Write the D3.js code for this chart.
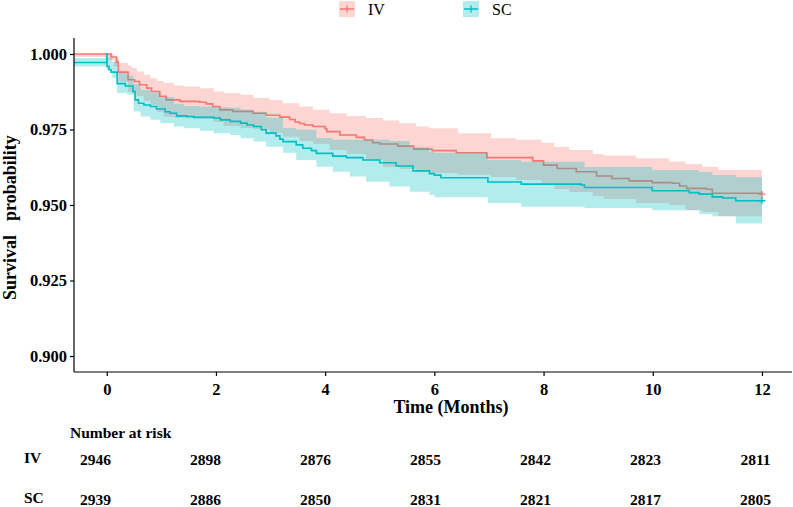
<!DOCTYPE html>
<html>
<head>
<meta charset="utf-8">
<script src="https://cdn.jsdelivr.net/npm/d3@7"></script>
<style>
  html, body { margin: 0; padding: 0; background: #fff; }
  svg { display: block; }
  text { font-family: "Liberation Serif", "Times New Roman", serif; }
</style>
</head>
<body>
<svg id="chart" width="793" height="507"></svg>
<script>
// ---------------- data ----------------
const groups = ["IV", "SC"];
const colors = ["#F8766D", "#00BFC4"];

const ivTime = [-0.6, 0.08, 0.18, 0.21, 0.39, 0.51, 0.60, 0.73, 0.82, 0.97, 1.09, 1.34, 1.70, 1.82, 1.94, 2.07, 2.31, 2.68, 2.92, 3.17, 3.35, 3.45, 3.53, 3.62, 3.78, 4.00, 4.03, 4.27, 4.57, 4.72, 4.87, 5.00, 5.33, 5.62, 5.96, 6.40, 6.96, 7.80, 8.00, 8.25, 8.60, 8.97, 9.25, 9.57, 9.99, 10.36, 10.49, 10.62, 10.98, 11.09, 12.0];
const ivSurv = [1.000, 0.9990, 0.9973, 0.9940, 0.9915, 0.9909, 0.9898, 0.9887, 0.9876, 0.9860, 0.9848, 0.9843, 0.9840, 0.9835, 0.9826, 0.9815, 0.9810, 0.9804, 0.9797, 0.9791, 0.9783, 0.9775, 0.9770, 0.9765, 0.9760, 0.9752, 0.9743, 0.9732, 0.9724, 0.9715, 0.9706, 0.9702, 0.9695, 0.9685, 0.9680, 0.9673, 0.9657, 0.9646, 0.9632, 0.9621, 0.9610, 0.9596, 0.9588, 0.9580, 0.9574, 0.9572, 0.9563, 0.9555, 0.9552, 0.9539, 0.9536];

const scTime = [-0.6, 0.0, 0.005, 0.04, 0.08, 0.19, 0.34, 0.48, 0.52, 0.58, 0.68, 0.80, 0.91, 1.07, 1.16, 1.28, 1.46, 1.59, 1.96, 2.08, 2.26, 2.45, 2.57, 2.69, 2.83, 2.92, 3.10, 3.17, 3.23, 3.47, 3.59, 3.75, 3.84, 4.14, 4.39, 4.69, 5.00, 5.30, 5.61, 5.91, 6.00, 6.12, 6.98, 7.59, 8.69, 8.75, 9.99, 10.67, 10.85, 11.09, 11.28, 11.52, 12.0];
const scSurv = [0.9972, 1.000, 0.9959, 0.9948, 0.9940, 0.9902, 0.9894, 0.9876, 0.9848, 0.9837, 0.9831, 0.9826, 0.9818, 0.9809, 0.9804, 0.9795, 0.9793, 0.9790, 0.9788, 0.9782, 0.9777, 0.9771, 0.9765, 0.9760, 0.9749, 0.9738, 0.9729, 0.9718, 0.9710, 0.9699, 0.9688, 0.9680, 0.9671, 0.9662, 0.9657, 0.9649, 0.9640, 0.9629, 0.9613, 0.9604, 0.9599, 0.9590, 0.9576, 0.9569, 0.9566, 0.9558, 0.9547, 0.9541, 0.9536, 0.9527, 0.9523, 0.9514, 0.9514];

const ivBandTime = [-0.6, 0.0, 0.13, 0.22, 0.39, 0.46, 0.55, 0.68, 0.80, 0.92, 1.04, 1.23, 1.41, 1.71, 1.96, 2.14, 2.45, 2.69, 2.98, 3.22, 3.53, 3.78, 4.08, 4.39, 4.75, 5.06, 5.36, 5.67, 5.91, 6.43, 7.04, 7.50, 7.96, 8.20, 8.47, 8.90, 9.10, 9.69, 10.30, 10.60, 10.91, 11.20, 12.0];
const ivUpper = [1.000, 1.000, 0.9987, 0.9970, 0.9962, 0.9954, 0.9942, 0.9931, 0.9920, 0.9911, 0.9904, 0.9896, 0.9892, 0.9887, 0.9876, 0.9871, 0.9865, 0.9854, 0.9848, 0.9837, 0.9826, 0.9815, 0.9804, 0.9795, 0.9788, 0.9780, 0.9771, 0.9760, 0.9754, 0.9738, 0.9721, 0.9716, 0.9706, 0.9692, 0.9682, 0.9669, 0.9664, 0.9655, 0.9644, 0.9636, 0.9627, 0.9616, 0.9614];
const ivLower = [0.9990, 0.9980, 0.9958, 0.9908, 0.9875, 0.9870, 0.9861, 0.9845, 0.9832, 0.9809, 0.9792, 0.9789, 0.9789, 0.9787, 0.9775, 0.9762, 0.9755, 0.9752, 0.9739, 0.9726, 0.9712, 0.9702, 0.9682, 0.9669, 0.9649, 0.9626, 0.9619, 0.9609, 0.9606, 0.9600, 0.9593, 0.9583, 0.9570, 0.9553, 0.9543, 0.9530, 0.9520, 0.9507, 0.9500, 0.9483, 0.9477, 0.9463, 0.9460];

const scBandTime = [-0.6, 0.0, 0.10, 0.19, 0.37, 0.49, 0.62, 0.80, 0.98, 1.23, 1.41, 1.71, 1.96, 2.26, 2.45, 2.69, 2.92, 3.23, 3.47, 3.84, 4.14, 4.45, 4.75, 5.18, 5.55, 5.91, 6.00, 6.98, 7.59, 8.75, 9.99, 10.85, 11.09, 11.52, 12.0];
const scUpper = [0.9987, 0.9988, 0.9974, 0.9938, 0.9928, 0.9901, 0.9882, 0.9872, 0.9858, 0.9835, 0.9828, 0.9826, 0.9824, 0.9822, 0.9815, 0.9809, 0.9789, 0.9755, 0.9749, 0.9722, 0.9716, 0.9716, 0.9716, 0.9712, 0.9692, 0.9676, 0.9673, 0.9649, 0.9643, 0.9626, 0.9616, 0.9609, 0.9599, 0.9592, 0.9592];
const scLower = [0.9959, 0.9948, 0.9921, 0.9871, 0.9865, 0.9810, 0.9793, 0.9782, 0.9771, 0.9760, 0.9754, 0.9746, 0.9738, 0.9732, 0.9721, 0.9710, 0.9693, 0.9673, 0.9649, 0.9627, 0.9610, 0.9594, 0.9577, 0.9561, 0.9544, 0.9533, 0.9526, 0.9506, 0.9494, 0.9490, 0.9483, 0.9470, 0.9463, 0.9439, 0.9439];

const xTicks = [0, 2, 4, 6, 8, 10, 12];
const yTicks = [0.900, 0.925, 0.950, 0.975, 1.000];
const riskIV = [2946, 2898, 2876, 2855, 2842, 2823, 2811];
const riskSC = [2939, 2886, 2850, 2831, 2821, 2817, 2805];

// ---------------- scales ----------------
const svg = d3.select("#chart");
const x = d3.scaleLinear().domain([-0.6, 12.55]).range([74, 792]);
const y = d3.scaleLinear().domain([0.8947, 1.0053]).range([372, 38]);
const tableX = d3.scaleLinear().domain([0, 12]).range([95.5, 755.5]);

const zip = (a, b) => a.map((v, i) => [v, b[i]]);
const zip3 = (a, b, c) => a.map((v, i) => [v, b[i], c[i]]);

const line = d3.line().curve(d3.curveStepAfter).x(d => x(d[0])).y(d => y(d[1]));
const area = d3.area().curve(d3.curveStepAfter)
  .x(d => x(d[0])).y0(d => y(d[2])).y1(d => y(d[1]));

const series = [
  { band: zip3(ivBandTime, ivUpper, ivLower), curve: zip(ivTime, ivSurv), color: colors[0] },
  { band: zip3(scBandTime, scUpper, scLower), curve: zip(scTime, scSurv), color: colors[1] }
];

const plot = svg.append("g");
series.forEach(s => {
  plot.append("path").attr("d", area(s.band))
    .attr("fill", s.color).attr("fill-opacity", 0.3).attr("stroke", "none");
  plot.append("path").attr("d", line(s.curve))
    .attr("fill", "none").attr("stroke", s.color).attr("stroke-width", 1.6);
  const last = s.curve[s.curve.length - 1];
  const cx = x(last[0]), cy = y(last[1]);
  plot.append("path").attr("d", `M${cx-3.5},${cy}H${cx+3.5}M${cx},${cy-3.5}V${cy+3.5}`)
    .attr("stroke", s.color).attr("stroke-width", 1.3);
});

// ---------------- axes ----------------
const xAxis = d3.axisBottom(x).tickValues(xTicks).tickSize(4).tickPadding(4).tickFormat(d3.format("d"));
const gx = svg.append("g").attr("transform", "translate(0,372)").call(xAxis);
gx.select(".domain").attr("d", "M74,0H792").attr("stroke", "#000").attr("stroke-width", 1.2);
gx.selectAll(".tick line").attr("stroke", "#000").attr("stroke-width", 1.2);
gx.selectAll(".tick text").attr("font-family", "Liberation Serif").attr("font-weight", "bold")
  .attr("font-size", 16.5).attr("fill", "#000").attr("dy", "0.9em");

const yAxis = d3.axisLeft(y).tickValues(yTicks).tickSize(4).tickPadding(3).tickFormat(d3.format(".3f"));
const gy = svg.append("g").attr("transform", "translate(74,0)").call(yAxis);
gy.select(".domain").attr("d", "M0,38V372").attr("stroke", "#000").attr("stroke-width", 1.2);
gy.selectAll(".tick line").attr("stroke", "#000").attr("stroke-width", 1.2);
gy.selectAll(".tick text").attr("font-family", "Liberation Serif").attr("font-weight", "bold")
  .attr("font-size", 16.5).attr("fill", "#000");

// axis titles
svg.append("text").attr("x", 451).attr("y", 413).attr("text-anchor", "middle")
  .attr("font-weight", "bold").attr("font-size", 18).text("Time (Months)");
const yTitle = svg.append("text").attr("transform", "translate(16,300) rotate(-90)")
  .attr("text-anchor", "start").attr("font-weight", "bold").attr("font-size", 18);
yTitle.append("tspan").attr("x", 0).text("Survival");
yTitle.append("tspan").attr("x", 79).text("probability");

// ---------------- legend ----------------
const legendX = [339, 463];
groups.forEach((g, i) => {
  const lg = svg.append("g").attr("transform", `translate(${legendX[i]},1)`);
  lg.append("rect").attr("width", 16).attr("height", 16)
    .attr("fill", colors[i]).attr("fill-opacity", 0.3);
  lg.append("path").attr("d", "M1,8H15M8,4.5V11.5")
    .attr("stroke", colors[i]).attr("stroke-width", 1.3).attr("fill", "none");
  lg.append("text").attr("x", 29).attr("y", 14).attr("font-size", 16).text(g);
});

// ---------------- risk table ----------------
svg.append("text").attr("x", 70).attr("y", 438).attr("font-weight", "bold")
  .attr("font-size", 15.5).text("Number at risk");
const rows = [{ name: "IV", vals: riskIV, yy: 465 }, { name: "SC", vals: riskSC, yy: 505 }];
rows.forEach(r => {
  svg.append("text").attr("x", 24).attr("y", r.yy - 2).attr("font-weight", "bold")
    .attr("font-size", 15.5).text(r.name);
  svg.append("g").selectAll("text").data(r.vals).join("text")
    .attr("x", (d, i) => tableX(xTicks[i])).attr("y", r.yy)
    .attr("text-anchor", "middle").attr("font-weight", "bold").attr("font-size", 15.5)
    .text(d => d);
});
</script>
</body>
</html>
